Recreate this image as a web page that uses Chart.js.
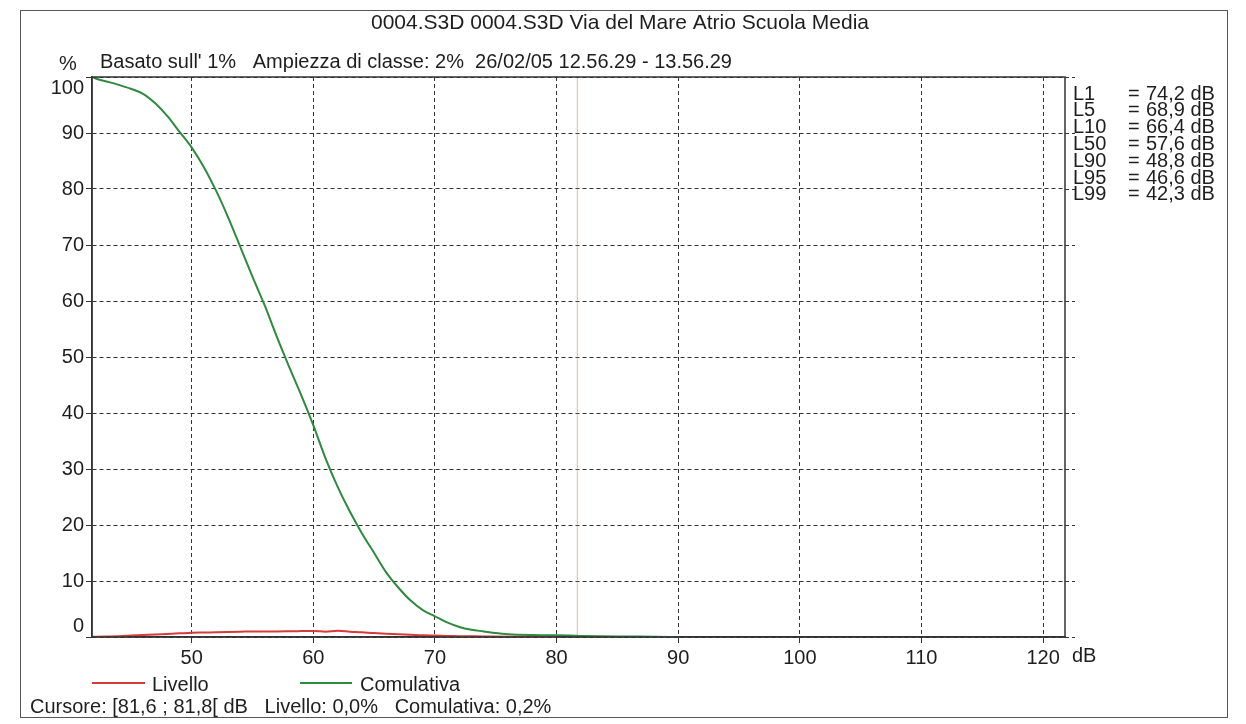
<!DOCTYPE html>
<html>
<head>
<meta charset="utf-8">
<script src="https://cdn.jsdelivr.net/npm/chart.js@4.4.1/dist/chart.umd.min.js"></script>
<style>
  html, body { margin: 0; padding: 0; background: #fff; }
  canvas { display: block; }
</style>
</head>
<body>
<canvas id="distChart" width="1246" height="724"></canvas>
<script>
const titleText = "0004.S3D 0004.S3D Via del Mare Atrio Scuola Media";
const infoText = "Basato sull' 1%   Ampiezza di classe: 2%  26/02/05 12.56.29 - 13.56.29";

// distribuzione cumulativa (dB -> %)
const cumDb = [41.8, 42.3, 43, 44, 45, 46, 47, 48, 49, 50, 51, 52, 53, 54, 55, 56, 57, 58, 59, 60,
  61, 62, 63, 64, 65, 66, 67, 68, 69, 70, 71, 72, 73, 74, 75, 76, 78, 80, 82, 85, 88, 90];
const cumPct = [100, 99.6, 99.2, 98.6, 97.9, 97.0, 95.3, 93.0, 90.2, 87.4, 83.9, 79.7, 74.9, 69.6, 64.3, 59.2, 53.6, 48.3, 43.2, 37.8,
  31.9, 26.8, 22.4, 18.5, 15.0, 11.5, 8.8, 6.5, 4.8, 3.7, 2.6, 1.8, 1.3, 1.0, 0.7, 0.5, 0.35, 0.3, 0.2, 0.1, 0.05, 0];

// distribuzione per classe (dB -> %)
const levDb = [41.8, 43, 44, 45, 46, 47, 48, 49, 50, 51, 52, 53, 54, 55, 56, 57, 58, 59, 60,
  61, 62, 63, 64, 65, 66, 67, 68, 69, 70, 71, 72, 74, 76, 78, 80];
const levPct = [0.05, 0.1, 0.15, 0.25, 0.35, 0.45, 0.55, 0.65, 0.75, 0.8, 0.85, 0.9, 0.95, 1.0, 1.0, 1.0, 1.02, 1.05, 1.08,
  0.95, 1.1, 0.95, 0.85, 0.7, 0.6, 0.5, 0.4, 0.3, 0.25, 0.2, 0.15, 0.1, 0.05, 0.02, 0];

const xTicks = [50, 60, 70, 80, 90, 100, 110, 120];
const yTicks = [0, 10, 20, 30, 40, 50, 60, 70, 80, 90, 100];

const statNames = ["L1", "L5", "L10", "L50", "L90", "L95", "L99"];
const statValues = [74.2, 68.9, 66.4, 57.6, 48.8, 46.6, 42.3];

const cursorFrom = 81.6;
const cursorTo = 81.8;
const cursorLivello = 0.0;
const cursorComulativa = 0.2;

const FONT = '"Liberation Sans", Arial, sans-serif';
const TEXT = "#1e1e1e";
const fmt = (v) => v.toFixed(1).replace(".", ",");

const toPoints = (xs, ys) => xs.map((x, i) => ({ x: x, y: ys[i] }));
const cursorX = (cursorFrom + cursorTo) / 2;

const decorations = {
  id: "decorations",
  beforeDraw(chart) {
    const c = chart.ctx;
    c.save();
    c.fillStyle = "#fff";
    c.fillRect(0, 0, chart.width, chart.height);
    c.restore();
  },
  afterDraw(chart) {
    const c = chart.ctx;
    const area = chart.chartArea;
    const y = chart.scales.y;
    c.save();

    // cornice esterna
    c.strokeStyle = "#555";
    c.lineWidth = 1;
    c.strokeRect(20.5, 10.5, 1207, 707);

    // bordo del grafico
    c.strokeStyle = "#333";
    c.lineWidth = 1.5;
    c.strokeRect(area.left, area.top, area.right - area.left, area.bottom - area.top);

    // tacche a destra
    c.lineWidth = 1;
    c.setLineDash([4, 3]);
    yTicks.forEach((v) => {
      const py = Math.round(y.getPixelForValue(v)) + 0.5;
      c.beginPath();
      c.moveTo(area.right, py);
      c.lineTo(area.right + 10, py);
      c.stroke();
    });
    c.setLineDash([]);

    c.fillStyle = TEXT;
    c.textBaseline = "middle";

    c.font = "21px " + FONT;
    c.textAlign = "center";
    c.fillText(titleText, 620, 23);

    c.font = "20px " + FONT;
    c.textAlign = "left";
    c.fillText("%", 59, 64);
    c.fillText(infoText, 100, 62);

    // etichette asse y
    c.textAlign = "right";
    yTicks.forEach((v) => {
      let py = y.getPixelForValue(v);
      if (v === y.max) py += 11;
      if (v === y.min) py -= 11;
      c.fillText(String(v), 84, py);
    });

    c.textAlign = "left";
    c.fillText("dB", 1072, 656);

    // livelli percentili
    statNames.forEach((n, i) => {
      const py = 94 + i * 16.8;
      c.fillText(n, 1073, py);
      c.fillText("=", 1128, py);
      c.fillText(fmt(statValues[i]) + " dB", 1146, py);
    });

    // legenda
    const legendPos = [[92, 145, 152], [300, 352, 360]];
    chart.data.datasets.slice(0, 2).forEach((ds, i) => {
      const [x1, x2, tx] = legendPos[i];
      c.strokeStyle = ds.borderColor;
      c.lineWidth = 2;
      c.beginPath();
      c.moveTo(x1, 683);
      c.lineTo(x2, 683);
      c.stroke();
      c.fillStyle = TEXT;
      c.fillText(ds.label, tx, 685);
    });

    c.fillText("Cursore: [" + fmt(cursorFrom) + " ; " + fmt(cursorTo) + "[ dB   Livello: " +
      fmt(cursorLivello) + "%   Comulativa: " + fmt(cursorComulativa) + "%", 30, 707);

    c.restore();
  }
};

new Chart(document.getElementById("distChart"), {
  type: "line",
  data: {
    datasets: [
      {
        label: "Livello",
        data: toPoints(levDb, levPct),
        borderColor: "rgb(214, 58, 58)",
        borderWidth: 2,
        pointRadius: 0,
        cubicInterpolationMode: "monotone",
      },
      {
        label: "Comulativa",
        data: toPoints(cumDb, cumPct),
        borderColor: "rgb(46, 138, 62)",
        borderWidth: 2,
        pointRadius: 0,
        cubicInterpolationMode: "monotone",
      },
      {
        label: "Cursore",
        data: [{ x: cursorX, y: 0 }, { x: cursorX, y: 100 }],
        borderColor: "rgba(235, 110, 110, 0.55)",
        borderWidth: 1,
        pointRadius: 0,
      },
    ],
  },
  options: {
    responsive: false,
    animation: false,
    devicePixelRatio: 1,
    layout: { padding: { left: 0, top: 77, right: 181, bottom: 0 } },
    plugins: {
      legend: { display: false },
      tooltip: { enabled: false },
    },
    scales: {
      x: {
        type: "linear",
        min: 41.8,
        max: 121.8,
        afterBuildTicks: (s) => { s.ticks = xTicks.map((v) => ({ value: v })); },
        afterFit: (s) => { s.height = 724 - 637; },
        grid: { color: "#333", lineWidth: 1, tickLength: 6 },
        border: { display: true, color: "#333", width: 1.5, dash: [4, 3] },
        ticks: {
          padding: 3,
          maxRotation: 0,
          autoSkip: false,
          color: TEXT,
          font: { family: FONT, size: 20 },
        },
      },
      y: {
        min: 0,
        max: 100,
        afterBuildTicks: (s) => { s.ticks = yTicks.map((v) => ({ value: v })); },
        afterFit: (s) => { s.width = 92; },
        grid: { color: "#333", lineWidth: 1, tickLength: 6 },
        border: { display: true, color: "#333", width: 1.5, dash: [4, 3] },
        ticks: { display: false },
      },
    },
  },
  plugins: [decorations],
});
</script>
</body>
</html>
